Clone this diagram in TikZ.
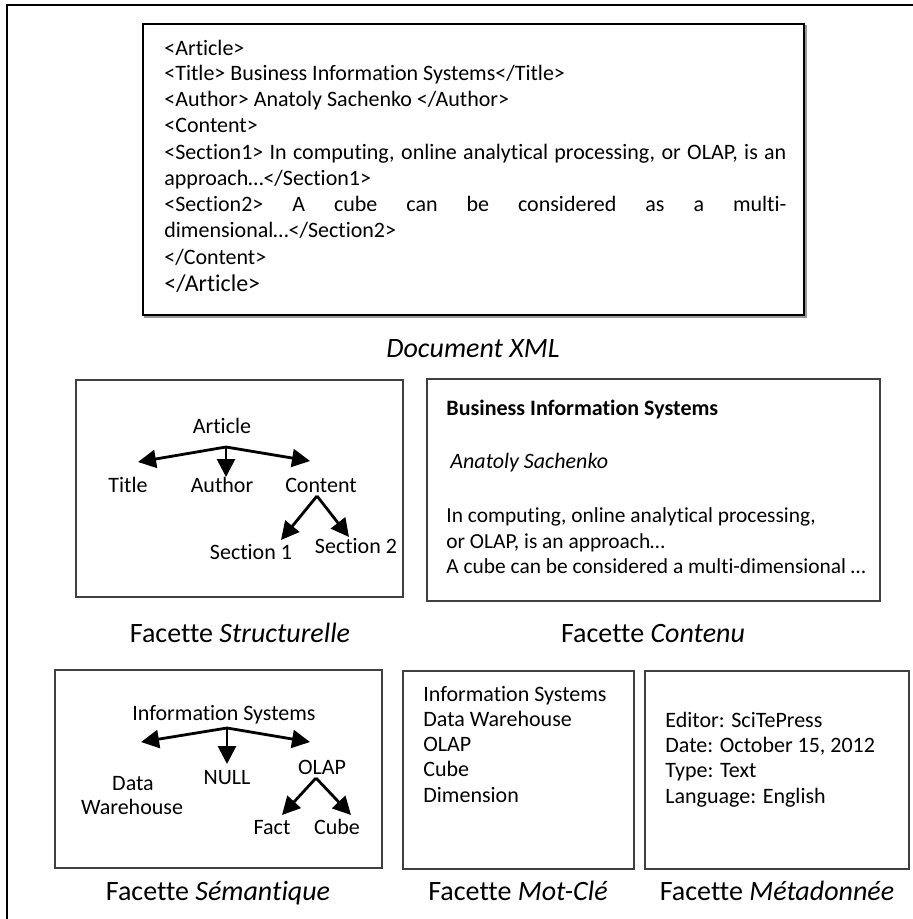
\documentclass[tikz,border=0pt]{standalone}
\usepackage{fontspec}
\setmainfont{Carlito}[Ligatures={NoCommon}]
\usetikzlibrary{arrows.meta}

\begin{document}
\begin{tikzpicture}[x=0.5pt,y=-0.5pt,
  frame/.style={line width=1.3pt,line cap=rect},
  facet/.style={draw=black!75,line width=0.7pt},
  lbl/.style={font=\fontsize{11}{13}\selectfont,inner sep=0pt,anchor=base},
  txt/.style={font=\fontsize{11}{13}\selectfont,inner sep=0pt,anchor=base west},
  caption/.style={font=\fontsize{14}{16}\selectfont,inner sep=0pt,anchor=base},
  tree/.style={line width=1.4pt,-{Triangle[length=9pt,width=9pt]}}]
\useasboundingbox (0,0) rectangle (912,919);

% outer frame, open on the right and at the bottom
\draw[frame] (7,919) -- (7,5) -- (912,5);

% ---------------- XML document ----------------
\draw[black!40,line width=1.2pt] (145,26) rectangle (806,317);
\draw[line width=1.2pt,fill=white] (143,24) rectangle (804,315);
\node[txt] (x1) at (164,56) {<Article>};
\node[txt] (x2) at (164,81) {<Title> Business Information Systems</Title>};
\node[txt] (x3) at (164,107) {<Author> Anatoly Sachenko </Author>};
\node[txt] (x4) at (164,133) {<Content>};
\node[txt] (x5) at (164,160) {\makebox[311pt][s]{<Section1> In computing, online analytical processing, or OLAP, is an}};
\node[txt] (x6) at (164,186) {approach…</Section1>};
\node[txt] (x7) at (164,212) {\makebox[311pt][s]{<Section2> A cube can be considered as a multi-}};
\node[txt] (x8) at (164,238) {dimensional…</Section2>};
\node[txt] (x9) at (164,265) {</Content>};
\node[txt,font=\fontsize{12}{14}\selectfont] (x10) at (164,292) {</Article>};
\node[caption] (capxml) at (473,357) {\textit{Document XML}};

% ---------------- structural facet ----------------
\draw[facet] (76,380) rectangle (403,597);
\node[lbl] (art) at (222,433) {Article};
\node[lbl] (title) at (128,492) {Title};
\node[lbl] (author) at (222,492) {Author};
\node[lbl] (content) at (321,492) {Content};
\node[lbl] (sec1) at (251,559) {Section 1};
\node[lbl] (sec2) at (356,553) {Section 2};
\coordinate (artroot) at (226,447);
\coordinate (titletip) at (138,462);
\coordinate (authortip) at (226,477);
\coordinate (contenttip) at (310,461);
\coordinate (controot) at (317,496);
\coordinate (sec1tip) at (281,540);
\coordinate (sec2tip) at (349,537);
\draw[tree] (artroot) -- (titletip);
\draw[tree] (artroot) -- (authortip);
\draw[tree] (artroot) -- (contenttip);
\draw[tree] (controot) -- (sec1tip);
\draw[tree] (controot) -- (sec2tip);
\node[caption] (capstr) at (240,642) {Facette \textit{Structurelle}};

% ---------------- content facet ----------------
\draw[facet] (427,379) rectangle (880,601);
\node[txt,font=\fontsize{11}{13}\selectfont\bfseries] (c1) at (446,415) {Business Information Systems};
\node[txt,font=\fontsize{11}{13}\selectfont\itshape] (c2) at (450,468) {Anatoly Sachenko};
\node[txt,font=\fontsize{10.7}{13}\selectfont] (c3) at (446,522) {In computing, online analytical processing,};
\node[txt,font=\fontsize{10.7}{13}\selectfont] (c4) at (446,548) {or OLAP, is an approach…};
\node[txt,font=\fontsize{10.7}{13}\selectfont] (c5) at (446,573) {A cube can be considered a multi-dimensional …};
\node[caption] (capcont) at (653,642) {Facette \textit{Contenu}};

% ---------------- semantic facet ----------------
\draw[facet] (55,670) rectangle (382,868);
\node[lbl] (is) at (224,720) {Information Systems};
\node[lbl] (dw1) at (133,790) {Data};
\node[lbl] (dw2) at (132,814) {Warehouse};
\node[lbl] (null) at (227,784) {NULL};
\node[lbl] (olap) at (322,774) {OLAP};
\node[lbl] (fact) at (272,834) {Fact};
\node[lbl] (cube) at (337,834) {Cube};
\coordinate (isroot) at (227,728);
\coordinate (dwtip) at (141,742);
\coordinate (nulltip) at (227,764);
\coordinate (olaptip) at (310,742);
\coordinate (olaproot) at (316,778);
\coordinate (facttip) at (282,815);
\coordinate (cubetip) at (351,815);
\draw[tree] (isroot) -- (dwtip);
\draw[tree] (isroot) -- (nulltip);
\draw[tree] (isroot) -- (olaptip);
\draw[tree] (olaproot) -- (facttip);
\draw[tree] (olaproot) -- (cubetip);
\node[caption] (capsem) at (218,900) {Facette \textit{Sémantique}};

% ---------------- keyword facet ----------------
\draw[facet] (403,671) rectangle (634,869);
\node[txt] (k1) at (423,701) {Information Systems};
\node[txt] (k2) at (423,726) {Data Warehouse};
\node[txt] (k3) at (423,751) {OLAP};
\node[txt] (k4) at (423,776) {Cube};
\node[txt] (k5) at (423,802) {Dimension};
\node[caption] (capkey) at (518,900) {Facette \textit{Mot-Clé}};

% ---------------- metadata facet ----------------
\draw[facet] (645,671) rectangle (909,869);
\node[txt] (m1) at (665,727) {Editor: SciTePress};
\node[txt] (m2) at (665,752) {Date: October 15, 2012};
\node[txt] (m3) at (665,777) {Type: Text};
\node[txt] (m4) at (665,803) {Language: English};
\node[caption] (capmeta) at (777,900) {Facette \textit{Métadonnée}};
\end{tikzpicture}
\end{document}
